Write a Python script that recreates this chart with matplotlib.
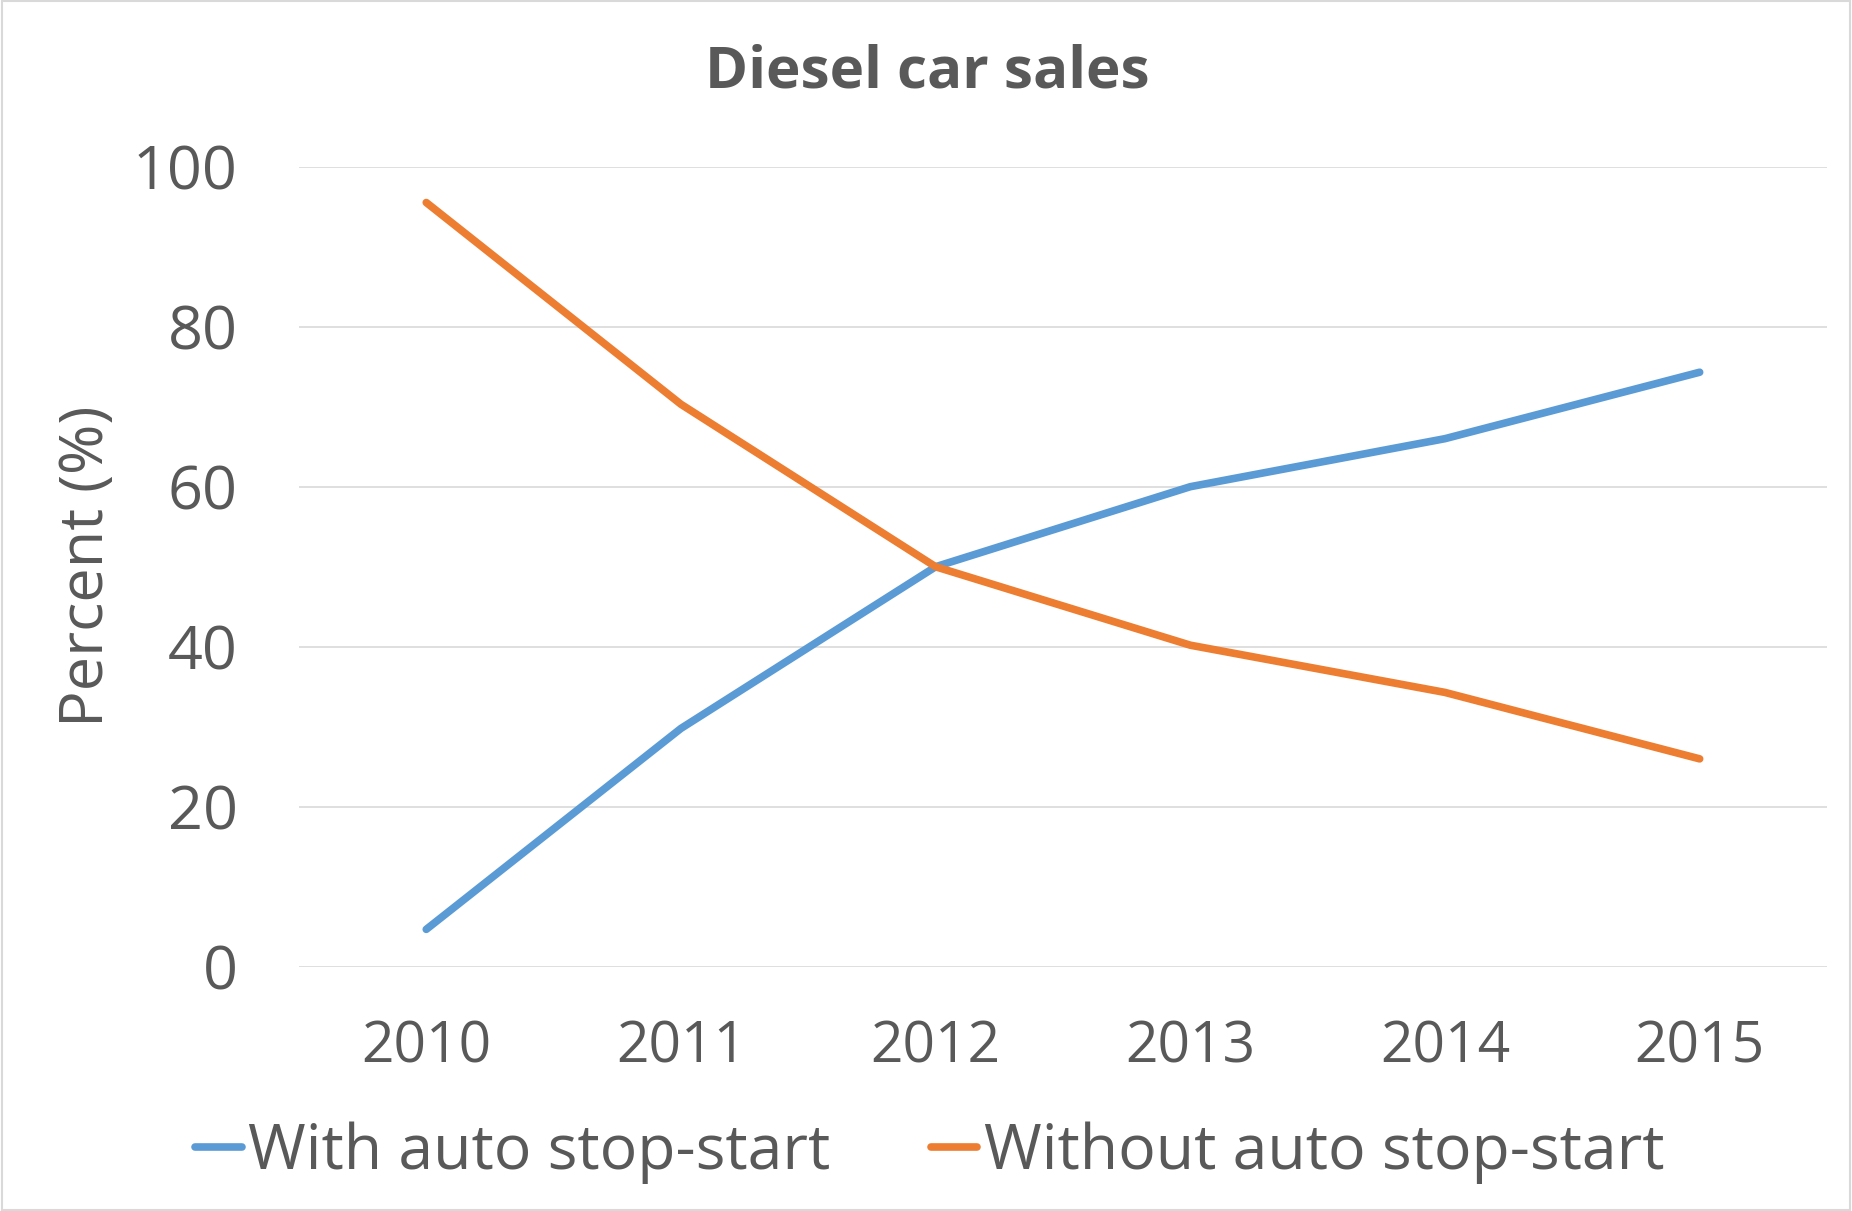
import matplotlib.pyplot as plt
from matplotlib.patches import Rectangle

# data
years = ["2010", "2011", "2012", "2013", "2014", "2015"]
with_ss = [4.7, 29.8, 50.0, 60.0, 66.0, 74.3]
without_ss = [95.5, 70.3, 50.0, 40.2, 34.3, 26.0]

TEXT = "#595959"
plt.rcParams['font.family'] = ['Open Sans', 'DejaVu Sans']

fig = plt.figure(figsize=(18.52, 12.11), dpi=100)
ax = fig.add_axes([0.1614, 0.2015, 0.8251, 0.661])

x = list(range(len(years)))
ax.plot(x, with_ss, color="#5B9BD5", lw=5.5, solid_capstyle="round",
        label="With auto stop-start", zorder=3)
ax.plot(x, without_ss, color="#ED7D31", lw=5.5, solid_capstyle="round",
        label="Without auto stop-start", zorder=3)

ax.set_xlim(-0.5, len(years) - 0.5)
ax.set_ylim(0, 100)
ax.set_yticks(range(0, 101, 20))
ax.set_xticks(x)
ax.set_xticklabels(years)
ax.grid(axis="y", color="#D9D9D9", lw=1.2)
ax.set_axisbelow(True)
for s in ax.spines.values():
    s.set_visible(False)
ax.tick_params(length=0, labelsize=44, colors=TEXT)
ax.tick_params(axis="x", labelsize=41, pad=38)
ax.tick_params(axis="y", pad=44)

ax.set_ylabel("Percent (%)", fontsize=44, color=TEXT)
ax.yaxis.set_label_coords(-0.119, 0.5)
fig.text(0.5005, 0.928, "Diesel car sales", ha="center", va="baseline",
         fontsize=42, fontweight="bold", color=TEXT)

fig.legend(*ax.get_legend_handles_labels(), loc="center", bbox_to_anchor=(0.502, 0.048),
           ncol=2, frameon=False, fontsize=45, labelcolor=TEXT, handlelength=0.75,
           handletextpad=0.1, columnspacing=1.6)

# thin frame around the whole picture
fig.patches.append(Rectangle((0.001, 0.001), 0.998, 0.998, transform=fig.transFigure,
                             fill=False, edgecolor="#D9D9D9", lw=1.5))

fig.savefig("out.png", dpi=100, facecolor="white")
